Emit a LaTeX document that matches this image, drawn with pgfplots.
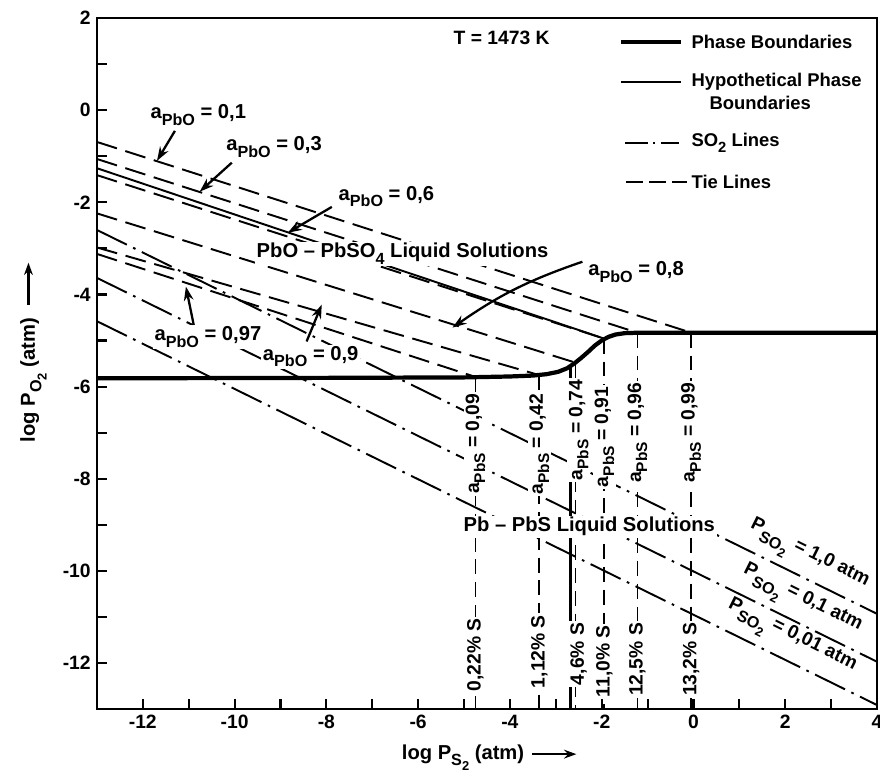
\documentclass[border=0pt]{standalone}
\usepackage{fontspec}
\setmainfont{Liberation Sans}
\usepackage{graphicx}
\usepackage{pgfplots}
\pgfplotsset{compat=1.18}
\usetikzlibrary{arrows.meta}
\newcommand\sub[1]{\raisebox{-0.32em}{\scalebox{0.8}{#1}}}
\newcommand\bsub[1]{\raisebox{-0.42em}{\scalebox{0.85}{#1}}}
\newcommand\annot{\bfseries\fontsize{11.5}{14}\selectfont}
\newcommand\slab{\bfseries\fontsize{10.8}{13}\selectfont}
\newcommand\vlab{\bfseries\fontsize{11}{13}\selectfont}
\tikzset{
  tie/.style={line width=1.1pt, dash pattern=on 12pt off 5pt},
  vtie/.style={line width=1.1pt, dash pattern=on 8.5pt off 4.5pt},
  so2/.style={line width=1.1pt, dash pattern=on 19pt off 4pt on 1.5pt off 4pt},
  pb/.style={line width=2.4pt},
  hyp/.style={line width=1.1pt},
  arr/.style={-{Stealth[length=8pt,width=5.5pt]}, line width=1.3pt},
  wl/.style={fill=white, inner sep=1pt},
}
\begin{document}
\begin{tikzpicture}
\path[use as bounding box] (-1.94,-1.34) rectangle (15.68,14.2);
\begin{axis}[
  at={(0,0)}, anchor=south west,
  scale only axis, width=15.62cm, height=13.84cm,
  xmin=-13, xmax=4, ymin=-13, ymax=2,
  xtick={-12,-10,-8,-6,-4,-2,0,2,4},
  xticklabels={-12,-10,-8,-6,-4,-2,0,2,4},
  ytick={-12,-10,-8,-6,-4,-2,0,2},
  yticklabels={-12,-10,-8,-6,-4,-2,0,2},
  minor xtick={-13,-11,-9,-7,-5,-3,-1,1,3},
  minor ytick={-13,-11,-9,-7,-5,-3,-1,1},
  tick align=inside, tick pos=left,
  major tick length=0.2cm, minor tick length=0.2cm,
  every tick/.style={line width=1.2pt, black},
  axis line style={line width=1.4pt},
  ticklabel style={font=\bfseries\fontsize{11}{13}\selectfont},
  clip=true,
]
% SO2 lines
\addplot[so2] coordinates {(-13,-2.60) (4,-10.93)};
\addplot[so2] coordinates {(-13,-3.64) (4,-11.97)};
\addplot[so2] coordinates {(-13,-4.58) (4,-12.91)};
% tie lines
\addplot[tie] coordinates {(-13,-0.69) (-0.05,-4.83)};
\addplot[tie] coordinates {(-13,-1.06) (-1.22,-4.83)};
\addplot[tie] coordinates {(-13,-1.41) (-1.94,-4.96)};
\addplot[tie] coordinates {(-13,-2.24) (-2.57,-5.48)};
\addplot[tie] coordinates {(-13,-2.98) (-3.36,-5.75)};
\addplot[tie] coordinates {(-13,-3.12) (-4.75,-5.79)};
% hypothetical boundaries
\addplot[hyp] coordinates {(-13,-1.26) (-1.94,-4.96)};
\addplot[hyp, line width=1.5pt] coordinates {(-2.68,-5.56) (-2.68,-13)};
% vertical tie lines
\addplot[vtie] coordinates {(-4.75,-5.79) (-4.75,-13)};
\addplot[vtie] coordinates {(-3.36,-5.75) (-3.36,-13)};
\addplot[vtie] coordinates {(-2.57,-5.48) (-2.57,-13)};
\addplot[vtie] coordinates {(-1.94,-4.96) (-1.94,-13)};
\addplot[vtie] coordinates {(-1.22,-4.83) (-1.22,-13)};
\addplot[vtie] coordinates {(-0.05,-4.83) (-0.05,-13)};
% phase boundary
\addplot[pb] coordinates {(-13,-5.82) (-8,-5.81) (-5,-5.80) (-4,-5.78) (-3.5,-5.76)
  (-3.2,-5.73) (-2.95,-5.68) (-2.75,-5.60) (-2.6,-5.50) (-2.45,-5.38) (-2.3,-5.25)
  (-2.15,-5.11) (-2.0,-5.00) (-1.85,-4.92) (-1.7,-4.87) (-1.5,-4.84) (-1.2,-4.83) (4,-4.83)};
% vertical labels
\node[wl, rotate=90, font=\vlab] at (axis cs:-4.75,-7.24) {a\sub{PbS} = 0,09};
\node[wl, rotate=90, font=\vlab] at (axis cs:-3.36,-7.25) {a\sub{PbS} = 0,42};
\node[wl, rotate=90, font=\vlab] at (axis cs:-2.5,-6.94) {a\sub{PbS} = 0,74};
\node[wl, rotate=90, font=\vlab] at (axis cs:-1.94,-7.09) {a\sub{PbS} = 0,91};
\node[wl, rotate=90, font=\vlab] at (axis cs:-1.22,-7.0) {a\sub{PbS} = 0,96};
\node[wl, rotate=90, font=\vlab] at (axis cs:-0.05,-7.0) {a\sub{PbS} = 0,99};
\node[wl, rotate=90, font=\vlab] at (axis cs:-4.75,-11.82) {0,22\% S};
\node[wl, rotate=90, font=\vlab] at (axis cs:-3.36,-11.75) {1,12\% S};
\node[wl, rotate=90, font=\vlab] at (axis cs:-2.5,-11.8) {4,6\% S};
\node[wl, rotate=90, font=\vlab] at (axis cs:-1.94,-11.96) {11,0\% S};
\node[wl, rotate=90, font=\vlab] at (axis cs:-1.22,-11.92) {12,5\% S};
\node[wl, rotate=90, font=\vlab] at (axis cs:-0.05,-11.92) {13,2\% S};
% region labels
\node[wl, font=\annot] at (axis cs:-6.34,-3.12) {PbO -- PbSO\sub{4} Liquid Solutions};
\node[wl, font=\annot] at (axis cs:-2.27,-9.04) {Pb -- PbS Liquid Solutions};
% SO2 labels
\node[rotate=-26.4, anchor=base west, inner sep=0pt, font=\slab] at (axis cs:1.22,-9.06) {P\bsub{SO\sub{2}} = 1,0 atm};
\node[rotate=-26.4, anchor=base west, inner sep=0pt, font=\slab] at (axis cs:1.07,-10.03) {P\bsub{SO\sub{2}} = 0,1 atm};
\node[rotate=-26.4, anchor=base west, inner sep=0pt, font=\slab] at (axis cs:0.74,-10.78) {P\bsub{SO\sub{2}} = 0,01 atm};
% aPbO labels
\node[font=\annot] at (axis cs:-10.79,-0.11) {a\sub{PbO} = 0,1};
\node[font=\annot] at (axis cs:-9.14,-0.80) {a\sub{PbO} = 0,3};
\node[font=\annot] at (axis cs:-6.69,-1.88) {a\sub{PbO} = 0,6};
\node[font=\annot] at (axis cs:-1.25,-3.51) {a\sub{PbO} = 0,8};
\node[wl, font=\annot] at (axis cs:-8.34,-5.35) {a\sub{PbO} = 0,9};
\node[wl, font=\annot] at (axis cs:-10.58,-4.92) {a\sub{PbO} = 0,97};
\draw[arr] (axis cs:-11.30,-0.45) -- (axis cs:-11.69,-1.10);
\draw[arr] (axis cs:-10.06,-1.14) -- (axis cs:-10.76,-1.77);
\draw[arr] (axis cs:-7.88,-2.10) -- (axis cs:-8.84,-2.66);
\draw[arr] (axis cs:-2.42,-3.29) to[bend right=8] (axis cs:-5.25,-4.72);
\draw[arr] (axis cs:-10.89,-4.66) -- (axis cs:-11.06,-3.83);
\draw[arr] (axis cs:-8.43,-5.02) -- (axis cs:-8.10,-4.22);
\node[font=\bfseries\fontsize{11}{13}\selectfont] at (axis cs:-4.18,1.57) {T = 1473 K};
\end{axis}
% legend
\begin{scope}[font=\bfseries\fontsize{10.5}{12}\selectfont]
\draw[pb] (10.5,13.36) -- (11.7,13.36);
\node[anchor=west, inner sep=0pt] at (11.9,13.36) {Phase Boundaries};
\draw[hyp] (10.5,12.56) -- (11.7,12.56);
\node[anchor=west, inner sep=0pt] at (11.9,12.56) {Hypothetical Phase};
\node[anchor=west, inner sep=0pt] at (12.26,12.14) {Boundaries};
\draw[line width=1.1pt, dash pattern=on 13pt off 3pt on 1.2pt off 3pt] (10.58,11.34) -- (11.66,11.34);
\node[anchor=west, inner sep=0pt] at (11.9,11.34) {SO\sub{2} Lines};
\draw[line width=1.1pt, dash pattern=on 9.5pt off 3.5pt] (10.6,10.56) -- (11.82,10.56);
\node[anchor=west, inner sep=0pt] at (11.9,10.56) {Tie Lines};
\end{scope}
% axis labels
\node[anchor=base west, inner sep=0pt, font=\annot] at (6.1,-1.0) {log P\sub{S\sub{2}} (atm)};
\draw[-{Stealth[length=7pt,width=5pt]}, line width=1.2pt] (8.72,-0.9) -- (9.6,-0.9);
\node[rotate=90, anchor=base west, inner sep=0pt, font=\annot] at (-1.24,5.34) {log P\sub{O\sub{2}} (atm)};
\draw[-{Stealth[length=7pt,width=5pt]}, line width=1.2pt] (-1.37,8.1) -- (-1.37,8.94);
\end{tikzpicture}
\end{document}
